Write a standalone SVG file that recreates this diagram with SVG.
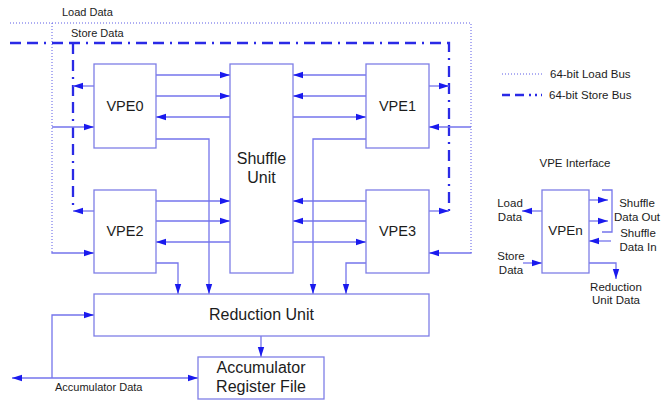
<svg xmlns="http://www.w3.org/2000/svg" width="671" height="400" viewBox="0 0 671 400">
<defs>
<marker id="ah" markerUnits="userSpaceOnUse" markerWidth="10" markerHeight="8" refX="10" refY="4" orient="auto-start-reverse">
<path d="M0,0.8 L10,4 L0,7.2 z" fill="#1a1aee"/>
</marker>
<style>
.box{fill:#fff;stroke:#7e7ee6;stroke-width:1.3}
.ln{fill:none;stroke:#7474ec;stroke-width:1.3}
.ar{fill:none;stroke:#7474ec;stroke-width:1.3;marker-end:url(#ah)}
.dot{fill:none;stroke:#5c5ce6;stroke-width:1;stroke-dasharray:1 2}
.dd{fill:none;stroke:#2a2ae6;stroke-width:2.3;stroke-dasharray:11 6 11 6 2 6}
.ddl{fill:none;stroke:#2a2ae6;stroke-width:2.3;stroke-dasharray:8 5 9 5 2 4 2 4}
text{font-family:"Liberation Sans",Arial,sans-serif;fill:#1c1c1c}
.big{font-size:16px;text-anchor:middle}
.mid{font-size:14.5px;text-anchor:middle}
.sm{font-size:11px}
.lg{font-size:11.5px}
.c{text-anchor:middle}
</style>
</defs>
<rect width="671" height="400" fill="#fff"/>

<g id="connectors">
<polyline class="dot" points="10,23 471,23 471,253"/>
<line class="dot" x1="52" y1="23" x2="52" y2="253"/>
<polyline class="dd" points="10,43 449,43 449,211"/>
<line class="dd" x1="73" y1="43" x2="73" y2="211"/>
<line class="ar" x1="52" y1="127" x2="94" y2="127"/>
<polyline class="ar" points="52,252 52,253 94,253"/>
<line class="ar" x1="471" y1="127" x2="429" y2="127"/>
<polyline class="ar" points="471,252 471,253 429,253"/>
<line class="ar" x1="94" y1="86" x2="73" y2="86"/>
<line class="ar" x1="94" y1="211" x2="73" y2="211"/>
<line class="ar" x1="429" y1="86" x2="449" y2="86"/>
<line class="ar" x1="429" y1="211" x2="449" y2="211"/>
<line class="ar" x1="156" y1="75" x2="230" y2="75"/>
<line class="ar" x1="156" y1="96" x2="230" y2="96"/>
<line class="ar" x1="230" y1="117" x2="156" y2="117"/>
<line class="ar" x1="366" y1="75" x2="293" y2="75"/>
<line class="ar" x1="366" y1="96" x2="293" y2="96"/>
<line class="ar" x1="293" y1="117" x2="366" y2="117"/>
<line class="ar" x1="156" y1="201" x2="230" y2="201"/>
<line class="ar" x1="156" y1="221" x2="230" y2="221"/>
<line class="ar" x1="230" y1="242" x2="156" y2="242"/>
<line class="ar" x1="366" y1="201" x2="293" y2="201"/>
<line class="ar" x1="366" y1="221" x2="293" y2="221"/>
<line class="ar" x1="293" y1="242" x2="366" y2="242"/>
<polyline class="ar" points="156,139 209,139 209,294"/>
<polyline class="ar" points="156,263 178,263 178,294"/>
<polyline class="ar" points="366,139 313,139 313,294"/>
<polyline class="ar" points="366,263 346,263 346,294"/>
<line class="ar" x1="261" y1="336" x2="261" y2="357"/>
<line class="ar" x1="52" y1="378" x2="198" y2="378"/>
<line class="ar" x1="52" y1="378" x2="12" y2="378"/>
<polyline class="ar" points="52,378 52,315 94,315"/>
<line class="dot" x1="502" y1="74" x2="542" y2="74"/>
<line class="ddl" x1="502" y1="95" x2="542" y2="95"/>
<line class="ar" x1="542" y1="211" x2="522" y2="211"/>
<line class="ar" x1="523" y1="263" x2="542" y2="263"/>
<line class="ar" x1="589" y1="200" x2="608" y2="200"/>
<line class="ar" x1="589" y1="221" x2="608" y2="221"/>
<polyline class="ln" points="602,190 612,190 612,232 602,232"/>
<line class="ar" x1="611" y1="241" x2="589" y2="241"/>
<polyline class="ar" points="589,263 616,263 616,279"/>
</g>

<g id="vpe0"><rect class="box" x="94" y="64" width="62" height="84"/><text class="mid" x="125" y="111">VPE0</text></g>
<g id="vpe1"><rect class="box" x="366" y="64" width="63" height="84"/><text class="mid" x="397.5" y="111">VPE1</text></g>
<g id="vpe2"><rect class="box" x="94" y="190" width="62" height="83"/><text class="mid" x="125" y="236">VPE2</text></g>
<g id="vpe3"><rect class="box" x="366" y="190" width="63" height="83"/><text class="mid" x="397.5" y="236">VPE3</text></g>
<g id="shuffle"><rect class="box" x="230" y="64" width="63" height="209"/><text class="big" x="261.5" y="164">Shuffle</text><text class="big" x="261.5" y="183">Unit</text></g>
<g id="reduction"><rect class="box" x="94" y="294" width="335" height="42"/><text class="big" x="261.5" y="320">Reduction Unit</text></g>
<g id="accumulator"><rect class="box" x="198" y="357" width="126" height="42"/><text class="big" x="261" y="373">Accumulator</text><text class="big" x="261" y="392">Register File</text></g>
<g id="vpen"><rect class="box" x="542" y="190" width="47" height="83"/><text class="c" style="font-size:13.5px" x="565.5" y="235">VPEn</text></g>

<g id="labels">
<text class="sm" x="62" y="16">Load Data</text>
<text class="sm" x="71" y="37">Store Data</text>
<text class="sm" x="55" y="391">Accumulator Data</text>
<text class="lg" x="550" y="78">64-bit Load Bus</text>
<text class="lg" x="549" y="99">64-bit Store Bus</text>
<text class="lg c" x="575" y="167">VPE Interface</text>
<text class="lg c" x="510" y="207">Load</text>
<text class="lg c" x="510" y="221">Data</text>
<text class="lg c" x="511" y="260">Store</text>
<text class="lg c" x="511" y="274">Data</text>
<text class="lg c" x="637" y="207">Shuffle</text>
<text class="lg c" x="637" y="221">Data Out</text>
<text class="lg c" x="638" y="237">Shuffle</text>
<text class="lg c" x="638" y="251">Data In</text>
<text class="lg c" x="616" y="291">Reduction</text>
<text class="lg c" x="616" y="304">Unit Data</text>
</g>
</svg>
